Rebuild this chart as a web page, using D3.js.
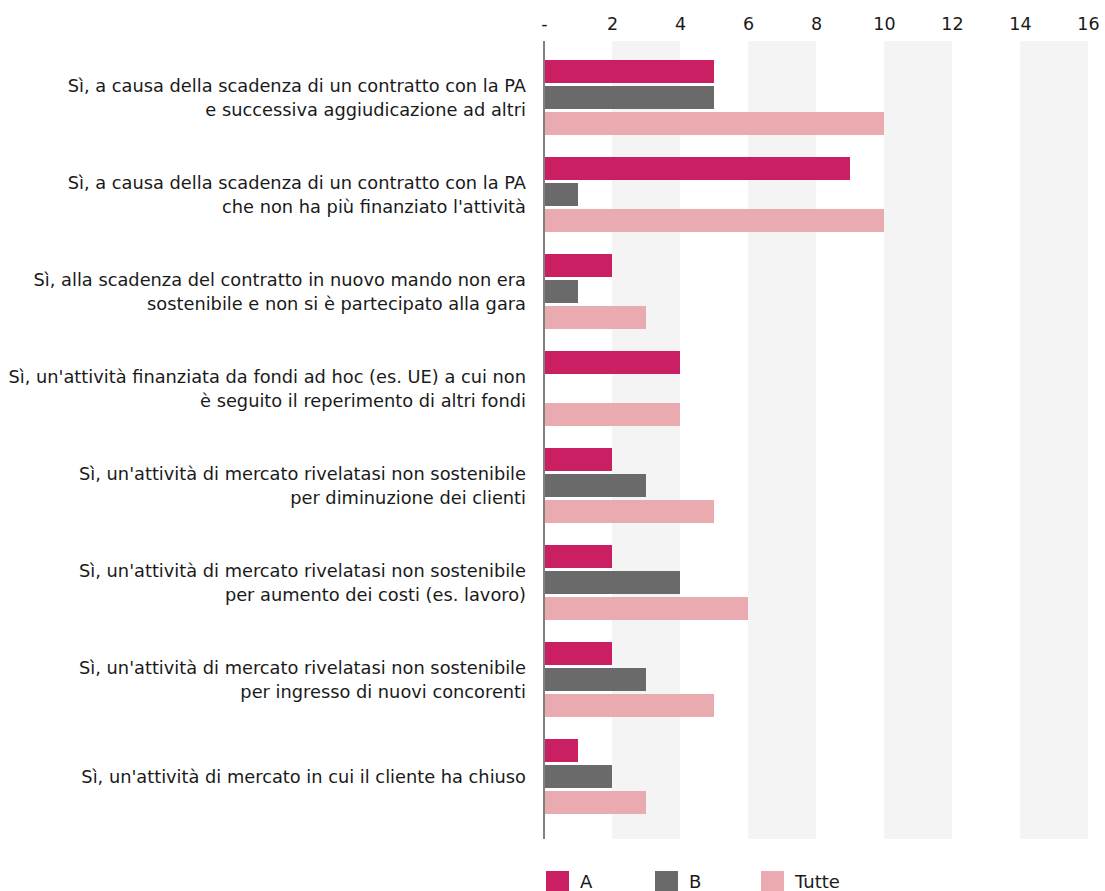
<!DOCTYPE html>
<html>
<head>
<meta charset="utf-8">
<script src="https://cdn.jsdelivr.net/npm/d3@7"></script>
<style>
  html, body { margin: 0; padding: 0; background: #fff; overflow: hidden; }
  svg { display: block; font-family: "DejaVu Sans", "Open Sans", sans-serif; }
</style>
</head>
<body>
<svg id="chart" width="1105" height="891"></svg>
<script>
// Responses (counts) per reason, split by group
const categories = [
  ["Sì, a causa della scadenza di un contratto con la PA", "e successiva aggiudicazione ad altri"],
  ["Sì, a causa della scadenza di un contratto con la PA", "che non ha più finanziato l'attività"],
  ["Sì, alla scadenza del contratto in nuovo mando non era", "sostenibile e non si è partecipato alla gara"],
  ["Sì, un'attività finanziata da fondi ad hoc (es. UE) a cui non", "è seguito il reperimento di altri fondi"],
  ["Sì, un'attività di mercato rivelatasi non sostenibile", "per diminuzione dei clienti"],
  ["Sì, un'attività di mercato rivelatasi non sostenibile", "per aumento dei costi (es. lavoro)"],
  ["Sì, un'attività di mercato rivelatasi non sostenibile", "per ingresso di nuovi concorenti"],
  ["Sì, un'attività di mercato in cui il cliente ha chiuso"]
];
const seriesNames = ["A", "B", "Tutte"];
const valuesA     = [5, 9, 2, 4, 2, 2, 2, 1];
const valuesB     = [5, 1, 1, 0, 3, 4, 3, 2];
const valuesTutte = [10, 10, 3, 4, 5, 6, 5, 3];
const tickValues  = [0, 2, 4, 6, 8, 10, 12, 14, 16];
const tickLabels  = ["-", "2", "4", "6", "8", "10", "12", "14", "16"];
const colors      = ["#ca1f62", "#6a6a6a", "#e9aab0"];

const series = [valuesA, valuesB, valuesTutte];
const rows = categories.map((c, i) => ({
  key: i,
  lines: c,
  vals: series.map((s, j) => ({ name: seriesNames[j], value: s[i], idx: j }))
}));

const svg = d3.select("#chart");
const plotTop = 41, plotBottom = 839;
const x = d3.scaleLinear().domain([0, 16]).range([544, 1088]);

const y0 = d3.scaleBand()
  .domain(rows.map(r => r.key))
  .range([49, 825]);

const y1 = d3.scaleBand()
  .domain(seriesNames)
  .range([11, 86])
  .paddingInner(3 / 26);

const color = d3.scaleOrdinal().domain(seriesNames).range(colors);

// Alternating background stripes
const stripes = d3.range(1, tickValues.length - 1, 2).map(i => [tickValues[i], tickValues[i + 1]]);
svg.append("g").selectAll("rect")
  .data(stripes)
  .join("rect")
  .attr("x", d => x(d[0]))
  .attr("width", d => x(d[1]) - x(d[0]))
  .attr("y", plotTop)
  .attr("height", plotBottom - plotTop)
  .attr("fill", "#f4f4f4");

// Top axis labels
const xAxis = d3.axisTop(x)
  .tickValues(tickValues)
  .tickFormat((d, i) => tickLabels[i])
  .tickSize(0)
  .tickPadding(0);
const gx = svg.append("g")
  .attr("transform", "translate(0,30)")
  .call(xAxis);
gx.select(".domain").remove();
gx.selectAll("text")
  .attr("font-family", "'DejaVu Sans', 'Open Sans', sans-serif")
  .attr("font-size", 17.5)
  .attr("fill", "#1a1a1a");

// Bars
const groups = svg.append("g").selectAll("g")
  .data(rows)
  .join("g")
  .attr("transform", d => `translate(0,${y0(d.key)})`);

groups.selectAll("rect")
  .data(d => d.vals)
  .join("rect")
  .attr("x", x(0))
  .attr("y", d => y1(d.name))
  .attr("width", d => x(d.value) - x(0))
  .attr("height", y1.bandwidth())
  .attr("fill", d => color(d.name));

// Category labels
const lineH = 24;
groups.append("text")
  .attr("text-anchor", "end")
  .attr("font-size", 17.8)
  .attr("fill", "#1a1a1a")
  .each(function(d) {
    const t = d3.select(this);
    const mid = y1.range()[0] + (y1.range()[1] - y1.range()[0]) / 2;
    const n = d.lines.length;
    d.lines.forEach((ln, k) => {
      t.append("tspan")
        .attr("x", 526)
        .attr("y", mid + (k - (n - 1) / 2) * lineH)
        .attr("dy", "0.35em")
        .text(ln);
    });
  });

// Vertical zero line
svg.append("line")
  .attr("x1", x(0)).attr("x2", x(0))
  .attr("y1", plotTop).attr("y2", plotBottom)
  .attr("stroke", "#808080")
  .attr("stroke-width", 2);

// Legend
const legendX = [546, 655, 761];
const legend = svg.append("g").selectAll("g")
  .data(seriesNames)
  .join("g")
  .attr("transform", (d, i) => `translate(${legendX[i]},871)`);
legend.append("rect")
  .attr("width", 23).attr("height", 20)
  .attr("fill", d => color(d));
legend.append("text")
  .attr("x", 34)
  .attr("y", 17)
  .attr("font-size", 18)
  .attr("fill", "#1a1a1a")
  .text(d => d);
</script>
</body>
</html>
